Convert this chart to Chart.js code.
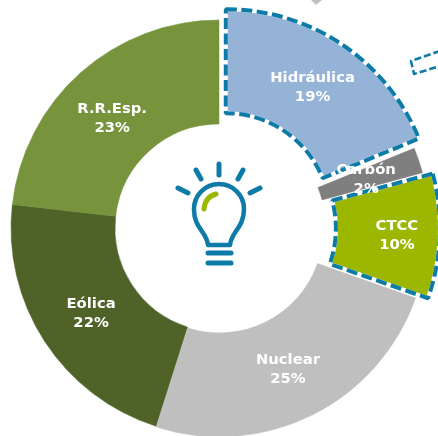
<!DOCTYPE html>
<html><head><meta charset="utf-8">
<style>html,body{margin:0;padding:0;background:#fff}#w{width:438px;height:436px;position:relative}</style>
<script src="https://cdn.jsdelivr.net/npm/chart.js@4"></script></head>
<body><div id="w"><canvas id="c" width="438" height="436"></canvas></div>
<script>
const categories = ['Hidráulica','Carbón','CTCC','Nuclear','Eólica','R.R.Esp.'];
const shares = [18.8,2.0,9.6,24.5,21.9,23.2];
const shareLabels = ['19%','2%','10%','25%','22%','23%'];
const sliceColors = ['#95B3D7','#7F7F7F','#9BB700','#BFBFBF','#4F6228','#77933C'];
const sliceOffsets = [48,6,36,4,0,0];
const dashedSlices = [true,false,true,false,false,false];
const labelNudgeX = [0,-2,13,-1,3,-3];
const labelNudgeY = [-1,2,1,1,0.5,7];
const BLUE = '#0C7BA8';

const dashedOverlay = {
  id:'dashedOverlay',
  afterDatasetsDraw(chart){
    const ctx = chart.ctx;
    chart.getDatasetMeta(0).data.forEach((arc,i)=>{
      if(!dashedSlices[i]) return;
      const o = arc.options;
      arc.options = Object.assign(Object.create(null),o,{borderColor:BLUE,borderDash:[11,4.5],backgroundColor:'rgba(0,0,0,0)',borderDashOffset:0});
      arc.draw(ctx);
      arc.options = o;
    });
  }
};

const decorations = {
  id:'decorations',
  afterDatasetsDraw(chart){
    const ctx = chart.ctx;
    ctx.save();
    ctx.lineCap='round'; ctx.lineJoin='round';
    ctx.strokeStyle=BLUE; ctx.lineWidth=5;
    [[219,164,219,175],[196,170,201,179],[243,170,238,179],[178,188,188,193],[260,188,250,193],[208,253,231,253],[208,263,231,263]].forEach(s=>{
      ctx.beginPath();ctx.moveTo(s[0],s[1]);ctx.lineTo(s[2],s[3]);ctx.stroke();
    });
    ctx.lineWidth=4.5;
    ctx.beginPath();
    ctx.moveTo(208,245);
    ctx.bezierCurveTo(207,232,194,228,194,210);
    ctx.arc(219,209,25,Math.PI,0);
    ctx.bezierCurveTo(244,228,231,232,230,245);
    ctx.closePath();
    ctx.stroke();
    ctx.strokeStyle='#9BB700';ctx.lineWidth=5;
    ctx.beginPath();ctx.moveTo(204,209);ctx.quadraticCurveTo(205,197,216,194);ctx.stroke();
    // small cropped callout box, top right
    ctx.lineCap='butt';ctx.strokeStyle=BLUE;ctx.lineWidth=2.5;ctx.setLineDash([7,3]);
    ctx.beginPath();ctx.moveTo(440,51);ctx.lineTo(411,61);ctx.lineTo(414,74);ctx.lineTo(440,66);ctx.stroke();
    ctx.setLineDash([]);
    ctx.fillStyle='#BFBFBF';
    ctx.beginPath();ctx.moveTo(311,0);ctx.lineTo(322,0);ctx.lineTo(316,5);ctx.closePath();ctx.fill();
    // labels
    ctx.fillStyle='#fff';ctx.font='bold 14.8px "DejaVu Sans"';ctx.textAlign='center';ctx.textBaseline='middle';
    chart.getDatasetMeta(0).data.forEach((arc,i)=>{
      const p = arc.getCenterPoint();
      const mid = (arc.startAngle+arc.endAngle)/2;
      const x = p.x-Math.cos(mid)*sliceOffsets[i]/4+labelNudgeX[i];
      const y = p.y-Math.sin(mid)*sliceOffsets[i]/4+labelNudgeY[i];
      ctx.fillText(categories[i],x,y-9);
      ctx.fillText(shareLabels[i],x,y+10);
    });
    ctx.restore();
  }
};

new Chart(document.getElementById('c'),{
  type:'doughnut',
  data:{labels:categories,datasets:[{
    data:shares,
    backgroundColor:sliceColors,
    borderColor:ctx=>dashedSlices[ctx.dataIndex]?'#ffffff':sliceColors[ctx.dataIndex],
    borderWidth:ctx=>dashedSlices[ctx.dataIndex]?4:0.5,
    offset:sliceOffsets
  }]},
  options:{
    responsive:false,animation:false,
    radius:208,cutout:'50%',
    layout:{padding:{top:20}},
    plugins:{legend:{display:false},tooltip:{enabled:false}}
  },
  plugins:[dashedOverlay,decorations]
});
</script></body></html>
